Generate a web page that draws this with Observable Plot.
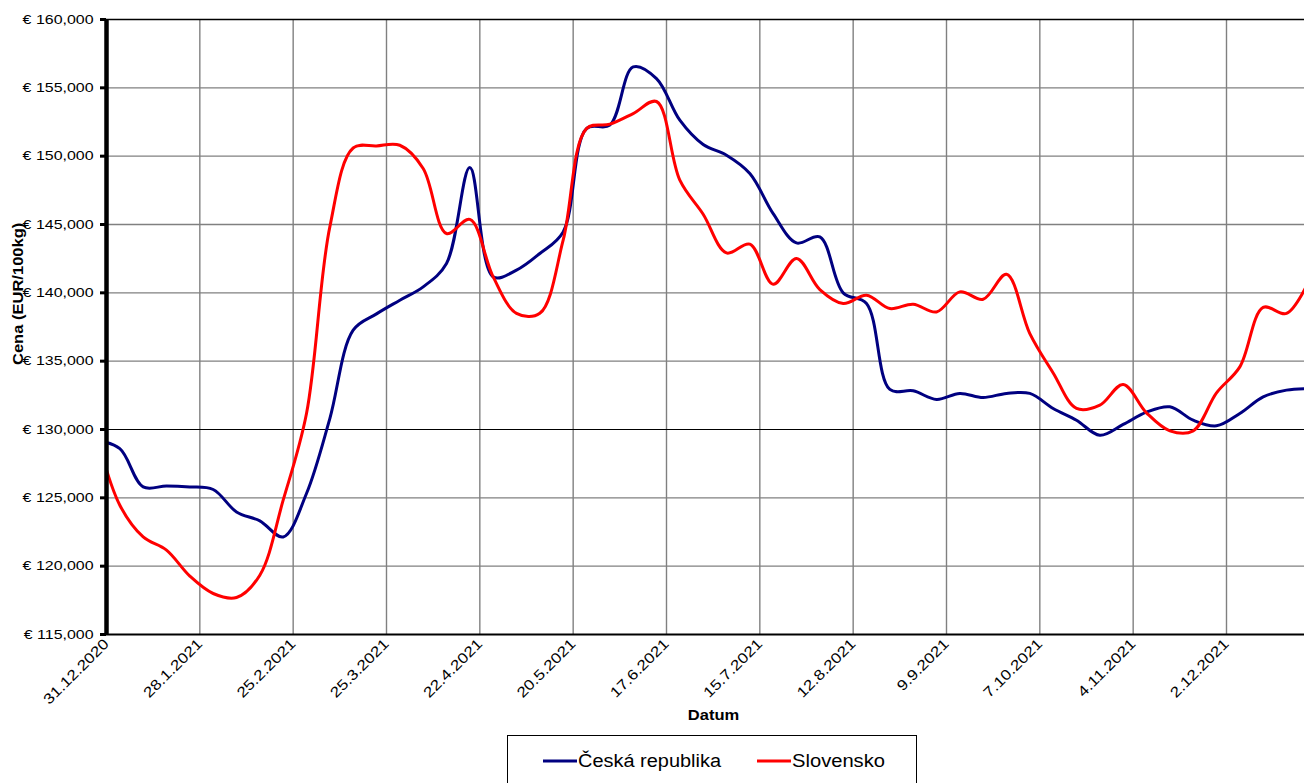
<!DOCTYPE html>
<html>
<head>
<meta charset="utf-8">
<script src="https://cdn.jsdelivr.net/npm/d3@7"></script>
<script src="https://cdn.jsdelivr.net/npm/@observablehq/plot@0.6"></script>
<style>
  html, body { margin: 0; padding: 0; background: #fff; }
  #wrap { position: relative; width: 1304px; height: 783px; overflow: hidden; font-family: "Liberation Sans", Arial, sans-serif; }
  #legend { position: absolute; left: 507px; top: 735px; }
</style>
</head>
<body>
<div id="wrap"></div>
<script>
// ---- data ----
const seriesNames = ["Česká republika", "Slovensko"];
const seriesColors = ["#000080", "#ff0000"];

const weekDates = [
  "2020-12-28","2021-01-04","2021-01-11","2021-01-18","2021-01-25","2021-02-01","2021-02-08","2021-02-15",
  "2021-02-22","2021-03-01","2021-03-08","2021-03-15","2021-03-22","2021-03-29","2021-04-05","2021-04-12",
  "2021-04-19","2021-04-26","2021-05-03","2021-05-10","2021-05-17","2021-05-24","2021-05-31","2021-06-07",
  "2021-06-14","2021-06-21","2021-06-28","2021-07-05","2021-07-12","2021-07-19","2021-07-26","2021-08-02",
  "2021-08-09","2021-08-16","2021-08-23","2021-08-30","2021-09-06","2021-09-13","2021-09-20","2021-09-27",
  "2021-10-04","2021-10-11","2021-10-18","2021-10-25","2021-11-01","2021-11-08","2021-11-15","2021-11-22",
  "2021-11-29","2021-12-06","2021-12-13","2021-12-20","2021-12-27"
];

const czValues = [
  129200, 128600, 125800, 125870, 125800, 125610, 123970, 123310,
  122140, 125320, 130800, 137270, 138460, 139460, 140440, 142150,
  149170, 141170, 141660, 142880, 144460, 152020, 152270, 156530,
  155680, 152630, 150850, 150070, 148730, 145800, 143650, 144090,
  140000, 139220, 132930, 132830, 132200, 132640, 132340, 132640,
  132640, 131540, 130680, 129580, 130370, 131270, 131660, 130680,
  130270, 131170, 132390, 132880, 133000
];

const skValues = [
  129600, 124460, 122140, 121170, 119270, 118000, 117710, 119340,
  124830, 131170, 144830, 150600, 150750, 150800, 149100, 144340,
  145370, 141170, 138500, 138500, 143850, 152020, 152340, 153120,
  154000, 148240, 145750, 142920, 143560, 140630, 142510, 140240,
  139220, 139830, 138850, 139170, 138600, 140070, 139530, 141360,
  137020, 134140, 131540, 131780, 133290, 131220, 129900, 129900,
  132680, 134580, 138930, 138490, 141000
];

const xTickDates = [
  "2020-12-31","2021-01-28","2021-02-25","2021-03-25","2021-04-22","2021-05-20","2021-06-17",
  "2021-07-15","2021-08-12","2021-09-09","2021-10-07","2021-11-04","2021-12-02"
];
const xDomainDates = ["2020-12-31T00:00Z", "2021-12-25T09:36Z"];
const yTicks = [115000, 120000, 125000, 130000, 135000, 140000, 145000, 150000, 155000, 160000];
const yStrongTick = 130000;
const yLabel = "Cena (EUR/100kg)";
const xLabel = "Datum";

// ---- build ----
const parse = s => new Date(s.length === 10 ? s + "T00:00Z" : s);
const rows = [];
weekDates.forEach((d, i) => rows.push({date: parse(d), value: czValues[i], series: seriesNames[0]}));
weekDates.forEach((d, i) => rows.push({date: parse(d), value: skValues[i], series: seriesNames[1]}));
const tickDates = xTickDates.map(parse);
const xDomain = xDomainDates.map(parse);
const yDomain = [d3.min(yTicks), d3.max(yTicks)];

const chart = Plot.plot({
  width: 1304,
  height: 735,
  marginLeft: 106,
  marginRight: 0,
  marginTop: 19,
  marginBottom: 101,
  style: {fontFamily: '"Liberation Sans", Arial, sans-serif', fontSize: "13px", color: "#000", background: "#fff", overflow: "visible"},
  x: {type: "utc", domain: xDomain},
  y: {domain: yDomain},
  color: {domain: seriesNames, range: seriesColors},
  marks: [
    Plot.gridX(tickDates, {stroke: "#808080", strokeOpacity: 1, strokeWidth: 1.4}),
    Plot.gridY(yTicks.filter(v => v !== yStrongTick && v !== yDomain[0] && v !== yDomain[1]), {stroke: "#808080", strokeOpacity: 1, strokeWidth: 1.4}),
    Plot.ruleY([yStrongTick], {stroke: "#000", strokeWidth: 1.2}),
    Plot.ruleY([yDomain[1]], {stroke: "#000", strokeWidth: 1.6}),
    Plot.lineY(rows, {x: "date", y: "value", stroke: "series", z: "series", curve: "catmull-rom", strokeWidth: 3, clip: true}),
    Plot.ruleY([yDomain[0]], {stroke: "#000", strokeWidth: 2}),
    Plot.ruleX([xDomain[0]], {stroke: "#000", strokeWidth: 4.5}),
    Plot.axisY({ticks: yTicks, tickFormat: v => "€ " + d3.format(",")(v), tickSize: 6, tickPadding: 7, strokeWidth: 3, fontSize: 13.5, label: null}),
    Plot.axisX({ticks: tickDates, tickFormat: d3.utcFormat("%-d.%-m.%Y"), tickRotate: -45, tickSize: 0, tickPadding: 7, fontSize: 14.5, label: null}),
    Plot.text([xLabel], {text: d => d, frameAnchor: "bottom", dx: 8, dy: 85, fontWeight: "bold", fontSize: 14})
  ]
});

const wrap = document.getElementById("wrap");
wrap.appendChild(chart);

// rotated y-axis title
const yTitleLen = 146;
d3.select(chart).append("text")
  .attr("transform", `translate(18,${292 + yTitleLen / 2}) rotate(-90)`)
  .attr("dy", "0.35em")
  .attr("text-anchor", "start")
  .attr("font-weight", "bold")
  .attr("font-size", 14)
  .attr("fill", "#000")
  .text(yLabel);

// stretch text horizontally like the reference rendering
const stretch = 1.18;
chart.querySelectorAll("text").forEach(t => {
  const len = t.getComputedTextLength();
  if (len > 0) {
    t.setAttribute("textLength", (len * stretch).toFixed(1));
    t.setAttribute("lengthAdjust", "spacingAndGlyphs");
  }
});

// ---- legend ----
const legend = d3.select(wrap).append("svg")
  .attr("id", "legend")
  .attr("width", 411)
  .attr("height", 60);
legend.append("rect")
  .attr("x", 0.5).attr("y", 0.5).attr("width", 409).attr("height", 70)
  .attr("fill", "#fff").attr("stroke", "#000").attr("stroke-width", 1);
const legendItems = [
  {name: seriesNames[0], color: seriesColors[0], x: 36, width: 143},
  {name: seriesNames[1], color: seriesColors[1], x: 250, width: 93}
];
legendItems.forEach(it => {
  legend.append("line")
    .attr("x1", it.x).attr("x2", it.x + 34)
    .attr("y1", 26).attr("y2", 26)
    .attr("stroke", it.color).attr("stroke-width", 3);
  legend.append("text")
    .attr("x", it.x + 35).attr("y", 32)
    .attr("font-family", '"Liberation Sans", Arial, sans-serif')
    .attr("font-size", 18)
    .attr("fill", "#000")
    .attr("textLength", it.width)
    .attr("lengthAdjust", "spacingAndGlyphs")
    .text(it.name);
});
</script>
</body>
</html>
